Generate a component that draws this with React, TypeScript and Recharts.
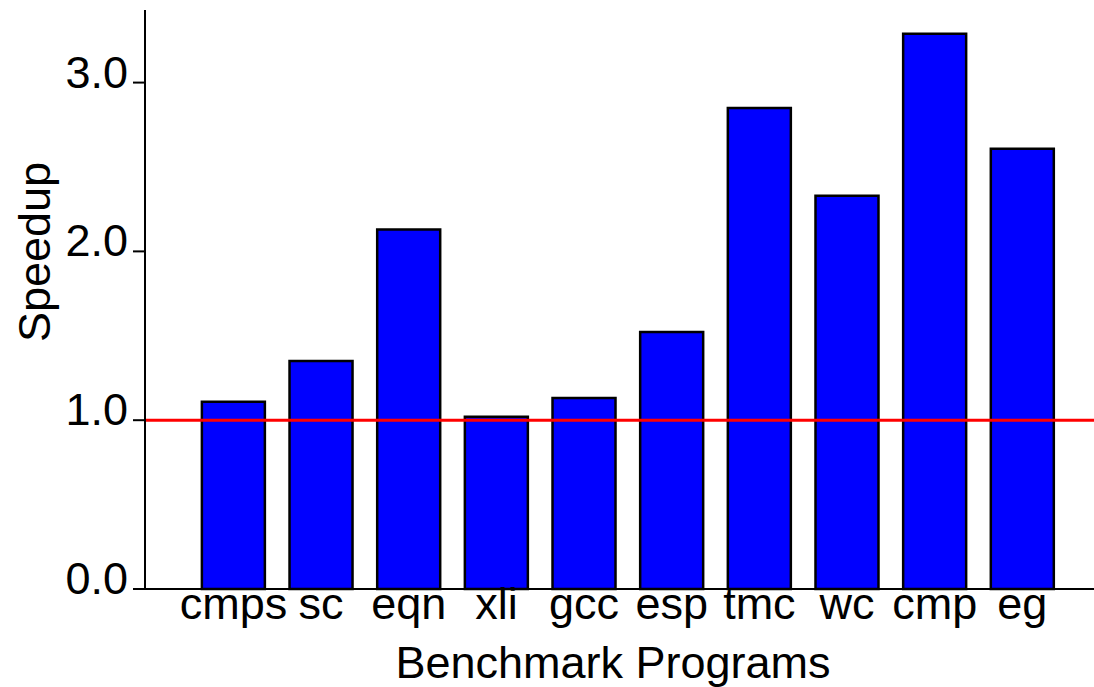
import React from 'react';
import { BarChart, Bar, XAxis, YAxis, ReferenceLine, Label } from 'recharts';

const categories = ['cmps', 'sc', 'eqn', 'xli', 'gcc', 'esp', 'tmc', 'wc', 'cmp', 'eg'];
const speedups = [1.11, 1.351, 2.13, 1.021, 1.132, 1.522, 2.849, 2.33, 3.29, 2.608];
const yTicks = [0, 1, 2, 3];
const baseline = 1.0;

const data = categories.map((name, i) => ({ name, speedup: speedups[i] }));

const FONT = '"Liberation Sans", Arial, sans-serif';
const FS = 45;

const XTick = (props: any) => {
  const { x, y, payload } = props;
  return (
    <text x={x} y={y} dy={30} textAnchor="middle" fontFamily={FONT} fontSize={FS} fill="#000">
      {payload.value}
    </text>
  );
};

const YTick = (props: any) => {
  const { x, y, payload } = props;
  return (
    <text x={x} y={y} dy={5} textAnchor="end" fontFamily={FONT} fontSize={FS} fill="#000">
      {Number(payload.value).toFixed(1)}
    </text>
  );
};

export default function App() {
  return (
    <div style={{ position: 'absolute', left: 0, top: 0, width: 1094, height: 687, background: '#fff' }}>
      <BarChart
        width={1094}
        height={687}
        data={data}
        margin={{ top: 10, right: 0, bottom: 0, left: 0 }}
        barCategoryGap="14%"
      >
        <XAxis
          dataKey="name"
          height={98}
          tickLine={false}
          tickSize={0}
          tickMargin={0}
          interval={0}
          padding={{ left: 44.6, right: 27.8 }}
          axisLine={{ stroke: '#000', strokeWidth: 2 }}
          tick={<XTick />}
        >
          <Label
            content={() => (
              <text x={613} y={678} textAnchor="middle" fontFamily={FONT} fontSize={FS} fill="#000">
                Benchmark Programs
              </text>
            )}
          />
        </XAxis>
        <YAxis
          width={145}
          domain={[0, 3.43]}
          ticks={yTicks}
          tickSize={12}
          tickMargin={5}
          axisLine={{ stroke: '#000', strokeWidth: 2 }}
          tickLine={{ stroke: '#000', strokeWidth: 2 }}
          tick={<YTick />}
        >
          <Label
            content={() => (
              <text
                x={50}
                y={252}
                transform="rotate(-90, 50, 252)"
                textAnchor="middle"
                fontFamily={FONT}
                fontSize={FS}
                fill="#000"
              >
                Speedup
              </text>
            )}
          />
        </YAxis>
        <Bar dataKey="speedup" fill="#0000ff" stroke="#000" strokeWidth={2.5} isAnimationActive={false} />
        <ReferenceLine y={baseline} stroke="#ff0000" strokeWidth={3} />
      </BarChart>
    </div>
  );
}
